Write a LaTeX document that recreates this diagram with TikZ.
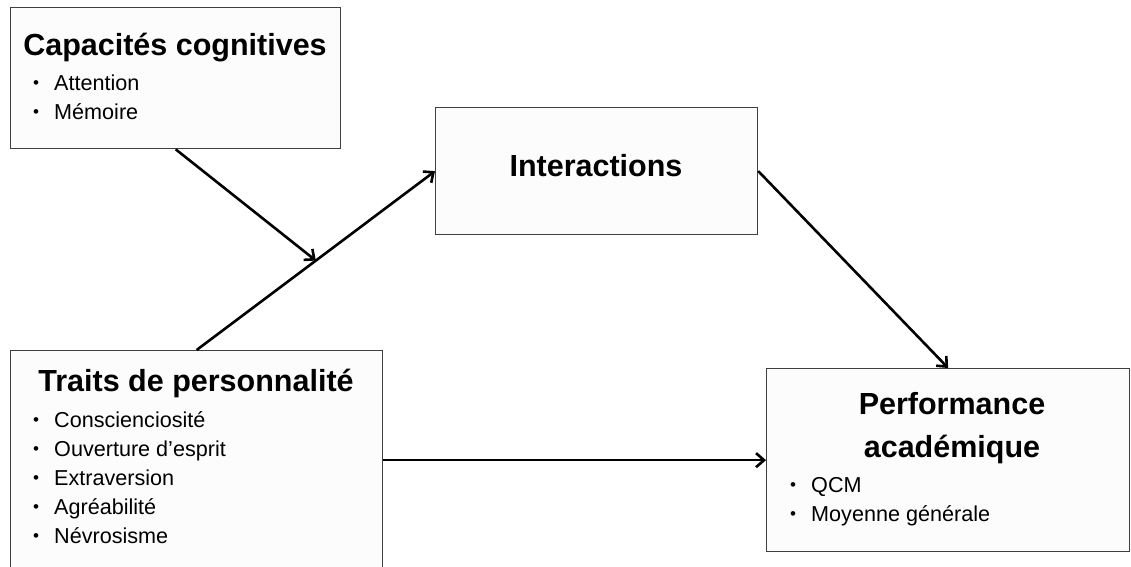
\documentclass[tikz,border=0pt]{standalone}
\usepackage{fontspec}
\setmainfont{Liberation Sans}
\usetikzlibrary{positioning,arrows.meta}
\definecolor{boxline}{HTML}{404040}
\definecolor{boxfill}{HTML}{FCFCFC}
\tikzset{
  boite/.style = {rectangle, draw=boxline, fill=boxfill, line width=1.3pt,
    inner sep=0pt, anchor=north west},
  titre/.style = {font=\fontsize{30.5}{43}\selectfont\bfseries, anchor=base,
    inner sep=0pt, align=center},% titre de la boite
  puce/.style = {font=\fontsize{21.6}{29}\selectfont, anchor=base west,
    inner sep=0pt},% element de liste
  fleche/.style = {-{Straight Barb[length=8pt,width=14pt]}, line width=2.6pt,
    black}
}
\newcommand{\puceitem}[1]{\makebox[21pt][l]{\raisebox{1.5pt}{\fontsize{17}{17}\selectfont\textbullet}}#1}

\begin{document}
\begin{tikzpicture}[x=1pt,y=-1pt]
\useasboundingbox (0,0) rectangle (1131,566);
% les boites
\node [boite, minimum width=330pt, minimum height=141pt] (cap) at (10,7) {};
\node [boite, minimum width=322pt, minimum height=127pt] (inter) at (435,107) {};
\node [boite, minimum width=372pt, minimum height=230pt] (traits) at (10,350) {};
\node [boite, minimum width=363pt, minimum height=183pt] (perf) at (766,368) {};
% textes
\node [titre] (capT) at (175,55) {Capacités cognitives};
\node [puce] (cap1) at (33,90) {\puceitem{Attention}};
\node [puce] (cap2) at (33,119) {\puceitem{Mémoire}};
\node [titre] (interT) at (596,176) {Interactions};
\node [titre] (traitsT) at (196,391) {Traits de personnalité};
\node [puce] (tr1) at (33,427) {\puceitem{Conscienciosité}};
\node [puce] (tr2) at (33,456) {\puceitem{Ouverture d’esprit}};
\node [puce] (tr3) at (33,485) {\puceitem{Extraversion}};
\node [puce] (tr4) at (33,514) {\puceitem{Agréabilité}};
\node [puce] (tr5) at (33,543) {\puceitem{Névrosisme}};
\node [titre] (perfT) at (952,457) {Performance\\académique};
\node [puce] (pf1) at (790,492) {\puceitem{QCM}};
\node [puce] (pf2) at (790,521) {\puceitem{Moyenne générale}};
% fleches
\draw [fleche] (traits.north) -- coordinate[pos=0.5] (milieu) (inter.west);
\draw [fleche] (cap.south) -- (milieu);
\draw [fleche] (inter.east) -- (perf.north);
\draw [fleche] (perf.west -| traits.east) -- (perf.west);
\end{tikzpicture}
\end{document}
